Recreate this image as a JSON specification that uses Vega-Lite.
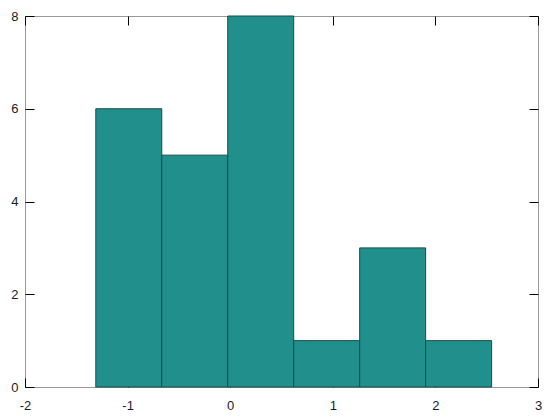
{
  "$schema": "https://vega.github.io/schema/vega-lite/v6.json",
  "width": 513,
  "height": 371,
  "autosize": {"type": "none"},
  "padding": {"left": 25, "top": 16, "right": 22, "bottom": 33},
  "background": "white",
  "config": {
    "view": {"stroke": "#999999", "strokeWidth": 1},
    "axis": {
      "domain": false,
      "grid": false,
      "tickColor": "#000000",
      "tickWidth": 1,
      "labelFont": "Liberation Sans",
      "labelFontSize": 13,
      "labelColor": "#1a1a2a",
      "title": null
    }
  },
  "data": {
    "values": [
      {"start": -1.31, "end": -0.667, "count": 6},
      {"start": -0.667, "end": -0.024, "count": 5},
      {"start": -0.024, "end": 0.619, "count": 8},
      {"start": 0.619, "end": 1.262, "count": 1},
      {"start": 1.262, "end": 1.905, "count": 3},
      {"start": 1.905, "end": 2.548, "count": 1}
    ]
  },
  "layer": [
    {
      "mark": {"type": "bar", "fill": "#21908d", "stroke": "#134e4b", "strokeWidth": 1, "opacity": 1},
      "encoding": {
        "x": {
          "field": "start", "type": "quantitative",
          "scale": {"domain": [-2, 3], "nice": false, "zero": false},
          "axis": {"orient": "bottom", "values": [-2, -1, 0, 1, 2, 3], "tickSize": -9, "labelPadding": 21, "labelFlush": false, "labelExpr": "replace(format(datum.value, 'd'), '\u2212', '-')"}
        },
        "x2": {"field": "end"},
        "y": {
          "field": "count", "type": "quantitative",
          "scale": {"domain": [0, 8], "nice": false},
          "axis": {"orient": "left", "values": [0, 2, 4, 6, 8], "tickSize": -9, "labelPadding": 16, "labelFlush": false, "labelExpr": "format(datum.value, 'd')"}
        },
        "y2": {"datum": 0}
      }
    },
    {
      "mark": {"type": "bar", "opacity": 0},
      "encoding": {
        "x": {
          "field": "start", "type": "quantitative",
          "scale": {"domain": [-2, 3], "nice": false, "zero": false},
          "axis": {"orient": "top", "values": [-2, -1, 0, 1, 2, 3], "tickSize": -9, "labels": false}
        },
        "x2": {"field": "end"},
        "y": {
          "field": "count", "type": "quantitative",
          "scale": {"domain": [0, 8], "nice": false},
          "axis": {"orient": "right", "values": [0, 2, 4, 6, 8], "tickSize": -9, "labels": false}
        },
        "y2": {"datum": 0}
      }
    }
  ],
  "resolve": {"axis": {"x": "independent", "y": "independent"}}
}
